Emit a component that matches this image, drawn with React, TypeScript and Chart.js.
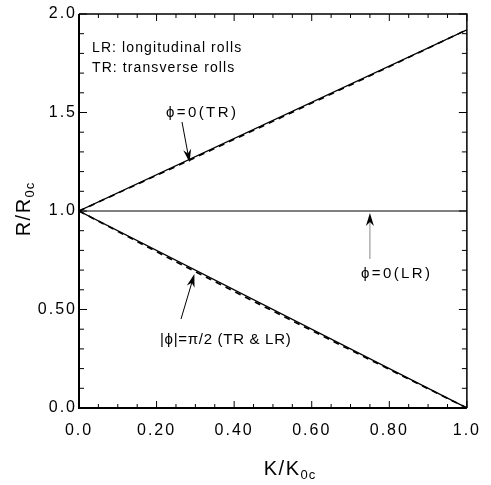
import React, { useEffect, useRef } from "react";
import { Chart, registerables } from "chart.js";

Chart.register(...registerables);

// ---- data ----
const solidUpperK = [0, 1];
const solidUpperR = [1.0, 1.92];
const dashedUpperK = [0, 0.25, 0.5, 0.75, 1.0];
const dashedUpperR = [1.0, 1.226, 1.455, 1.686, 1.92];
const solidLowerK = [0, 1];
const solidLowerR = [1.0, 0.0];
const dashedLowerK = [0, 0.25, 0.5, 0.75, 1.0];
const dashedLowerR = [1.0, 0.742, 0.492, 0.245, 0.0];
const lrK = [0, 1];
const lrR = [1.0, 1.0];

const xTickValues = [0, 0.2, 0.4, 0.6, 0.8, 1.0];
const xTickLabels = ["0.0", "0.20", "0.40", "0.60", "0.80", "1.0"];
const yTickValues = [0, 0.5, 1.0, 1.5, 2.0];
const yTickLabels = ["0.0", "0.50", "1.0", "1.5", "2.0"];

const legendLines = ["LR: longitudinal rolls", "TR: transverse rolls"];
const labelTR = "ϕ=0(TR)";
const labelLR = "ϕ=0(LR)";
const labelHalfPi = "|ϕ|=π/2 (TR & LR)";

const FONT = "'Liberation Sans', 'DejaVu Sans', Arial, sans-serif";

const pts = (xs: number[], ys: number[]) => xs.map((x, i) => ({ x, y: ys[i] }));

function drawArrow(ctx: CanvasRenderingContext2D, x0: number, y0: number, x1: number, y1: number, lineColor: string) {
  const dx = x1 - x0, dy = y1 - y0;
  const len = Math.hypot(dx, dy);
  const ux = dx / len, uy = dy / len;
  const headLen = 13, headW = 4;
  ctx.save();
  ctx.strokeStyle = lineColor;
  ctx.lineWidth = 1;
  ctx.beginPath();
  ctx.moveTo(x0, y0);
  ctx.lineTo(x1 - ux * headLen * 0.6, y1 - uy * headLen * 0.6);
  ctx.stroke();
  ctx.fillStyle = "#000";
  const bx = x1 - ux * headLen, by = y1 - uy * headLen;
  const nx = x1 - ux * headLen * 0.7, ny = y1 - uy * headLen * 0.7;
  ctx.beginPath();
  ctx.moveTo(x1, y1);
  ctx.lineTo(bx - uy * headW, by + ux * headW);
  ctx.lineTo(nx, ny);
  ctx.lineTo(bx + uy * headW, by - ux * headW);
  ctx.closePath();
  ctx.fill();
  ctx.restore();
}

const decorPlugin = {
  id: "decor",
  beforeDraw(chart: any) {
    chart.ctx.letterSpacing = "2px";
  },
  afterDraw(chart: any) {
    const ctx: CanvasRenderingContext2D = chart.ctx;
    const xs = chart.scales.x;
    const ys = chart.scales.y;
    const { left, right, top, bottom } = chart.chartArea;
    const X = (v: number) => xs.getPixelForValue(v);
    const Y = (v: number) => ys.getPixelForValue(v);
    ctx.save();
    ctx.letterSpacing = "0px";
    // frame
    ctx.strokeStyle = "#000";
    ctx.lineWidth = 2;
    ctx.beginPath();
    ctx.moveTo(left, top);
    ctx.lineTo(left, bottom);
    ctx.lineTo(right, bottom);
    ctx.stroke();
    ctx.lineWidth = 1.5;
    ctx.beginPath();
    ctx.moveTo(left, top);
    ctx.lineTo(right, top);
    ctx.lineTo(right, bottom);
    ctx.stroke();
    // ticks
    ctx.lineWidth = 1;
    ctx.beginPath();
    for (let i = 0; i <= 20; i++) {
      const v = i * 0.05;
      const px = X(v);
      const major = i % 4 === 0;
      const l = major ? 7 : 4;
      ctx.moveTo(px, bottom);
      ctx.lineTo(px, bottom - l);
      ctx.moveTo(px, top);
      ctx.lineTo(px, top + l);
    }
    for (let i = 0; i <= 20; i++) {
      const v = i * 0.1;
      const py = Y(v);
      const major = i % 5 === 0;
      const l = major ? 8 : 5;
      ctx.moveTo(left, py);
      ctx.lineTo(left + l, py);
      ctx.moveTo(right, py);
      ctx.lineTo(right - l, py);
    }
    ctx.stroke();

    // legend text
    ctx.fillStyle = "#000";
    ctx.textBaseline = "alphabetic";
    ctx.textAlign = "left";
    ctx.font = `14px ${FONT}`;
    ctx.letterSpacing = "1.1px";
    ctx.fillText(legendLines[0], 92, 52);
    ctx.fillText(legendLines[1], 92, 72);

    // annotations
    ctx.font = `15px ${FONT}`;
    ctx.letterSpacing = "2.4px";
    ctx.fillText(labelTR, 166, 117);
    ctx.fillText(labelLR, 361, 278);
    ctx.font = `15px ${FONT}`;
    ctx.letterSpacing = "0.7px";
    ctx.fillText(labelHalfPi, 160, 344);
    ctx.letterSpacing = "0px";

    drawArrow(ctx, 182, 122, X(0.285), Y(1.0 + 0.92 * 0.285) + 3, "#000");
    drawArrow(ctx, X(0.75), 259, X(0.75), Y(1.0) + 2, "#888");
    drawArrow(ctx, 181, 319, X(0.3) - 1, Y(0.7) + 4, "#000");

    // axis titles
    const mainFont = `20px ${FONT}`;
    const subFont = `13px ${FONT}`;
    ctx.font = mainFont;
    ctx.letterSpacing = "1.5px";
    const wMain = ctx.measureText("K/K").width;
    ctx.font = subFont;
    ctx.letterSpacing = "1px";
    const wSub = ctx.measureText("0c").width;
    const cx = 290;
    const startX = cx - (wMain + wSub) / 2;
    ctx.font = mainFont;
    ctx.letterSpacing = "1.5px";
    ctx.fillText("K/K", startX, 475);
    ctx.font = subFont;
    ctx.letterSpacing = "1px";
    ctx.fillText("0c", startX + wMain, 479);

    // y title
    ctx.save();
    ctx.translate(30, 209);
    ctx.rotate(-Math.PI / 2);
    ctx.font = mainFont;
    ctx.letterSpacing = "1.5px";
    const wyMain = ctx.measureText("R/R").width;
    ctx.font = subFont;
    ctx.letterSpacing = "1px";
    const wySub = ctx.measureText("0c").width;
    const sy = -(wyMain + wySub) / 2;
    ctx.font = mainFont;
    ctx.letterSpacing = "1.5px";
    ctx.fillText("R/R", sy, 0);
    ctx.font = subFont;
    ctx.letterSpacing = "1px";
    ctx.fillText("0c", sy + wyMain, 4);
    ctx.restore();

    ctx.restore();
  },
};

export default function App() {
  const ref = useRef<HTMLCanvasElement | null>(null);
  useEffect(() => {
    if (!ref.current) return;
    const chart = new Chart(ref.current, {
      type: "scatter",
      data: {
        datasets: [
          { data: pts(solidUpperK, solidUpperR), showLine: true, borderColor: "#000", borderWidth: 1.3, pointRadius: 0 },
          { data: pts(dashedUpperK, dashedUpperR), showLine: true, borderColor: "#000", borderWidth: 1.6, borderDash: [6, 5], pointRadius: 0 },
          { data: pts(solidLowerK, solidLowerR), showLine: true, borderColor: "#000", borderWidth: 1.3, pointRadius: 0 },
          { data: pts(dashedLowerK, dashedLowerR), showLine: true, borderColor: "#000", borderWidth: 1.7, borderDash: [6, 5], pointRadius: 0 },
          { data: pts(lrK, lrR), showLine: true, borderColor: "#000", borderWidth: 1, pointRadius: 0 },
        ],
      },
      options: {
        animation: false,
        responsive: true,
        maintainAspectRatio: false,
        layout: { padding: { left: 0, top: 14, right: 17, bottom: 0 } },
        plugins: { legend: { display: false }, tooltip: { enabled: false } },
        scales: {
          x: {
            type: "linear",
            min: 0,
            max: 1,
            afterBuildTicks: (s: any) => { s.ticks = xTickValues.map((v) => ({ value: v })); },
            afterFit: (s: any) => { s.height = 77; },
            ticks: {
              callback: (_v: any, i: number) => xTickLabels[i],
              font: { family: FONT, size: 16 },
              color: "#000",
              padding: 13,
              maxRotation: 0,
            },
            grid: { display: false, drawTicks: false },
            border: { display: false },
          },
          y: {
            type: "linear",
            min: 0,
            max: 2,
            afterBuildTicks: (s: any) => { s.ticks = yTickValues.map((v) => ({ value: v })); },
            afterFit: (s: any) => { s.width = 79; },
            ticks: {
              callback: (_v: any, i: number) => yTickLabels[i],
              font: { family: FONT, size: 16 },
              color: "#000",
              padding: 2,
            },
            grid: { display: false, drawTicks: false },
            border: { display: false },
          },
        },
      },
      plugins: [decorPlugin],
    } as any);
    return () => chart.destroy();
  }, []);
  return (
    <div style={{ position: "absolute", left: 0, top: 0, width: 491, height: 485, background: "#fff" }}>
      <canvas ref={ref} />
    </div>
  );
}
